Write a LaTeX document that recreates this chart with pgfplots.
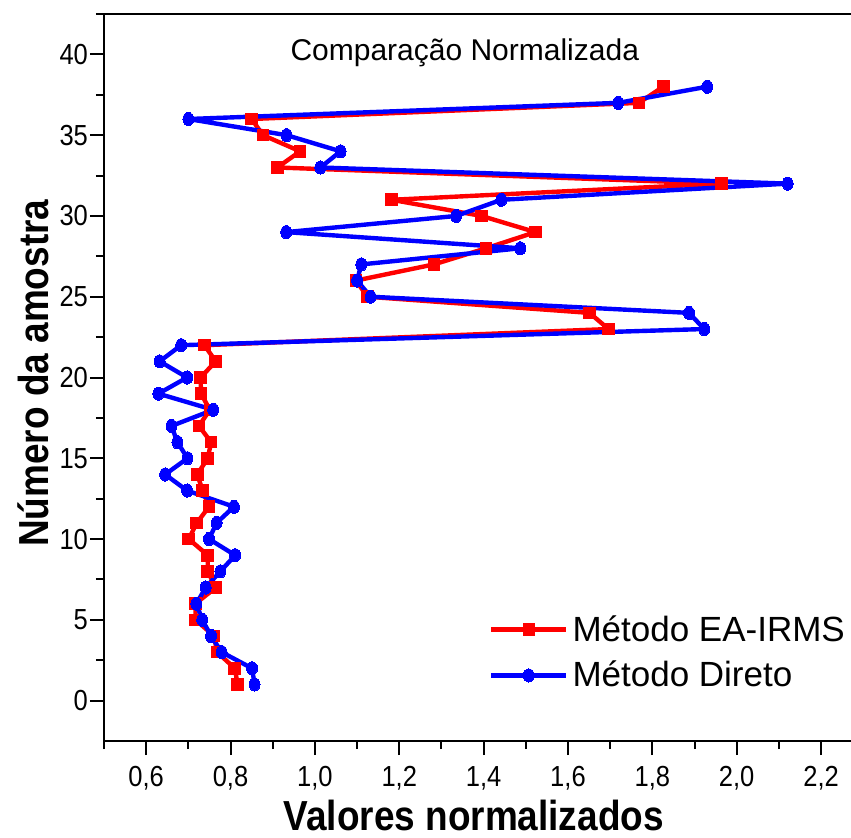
\documentclass[border=0pt]{standalone}
\usepackage{pgfplots}
\pgfplotsset{compat=1.18}
\usepackage{fontspec}
\setmainfont{Liberation Sans}
\newfontfamily\narrowfont[FakeStretch=0.88]{Liberation Sans}
\newfontfamily\labelfont[FakeStretch=0.88]{Liberation Sans}

\begin{document}
\begin{tikzpicture}
\begin{axis}[
  at={(0,0)}, anchor=south west,
  scale only axis,
  width=373.5pt, height=363.5pt,
  xmin=0.5, xmax=2.271,
  ymin=-2.5, ymax=42.5,
  axis x line=box, axis y line=left,
  x axis line style={-, line width=1pt},
  y axis line style={-, line width=1pt},
  every tick/.style={black, line width=1pt},
  tick align=outside,
  xtick pos=bottom, ytick pos=left,
  major tick length=7pt, minor tick length=4pt,
  xtick={0.6,0.8,...,2.21},
  minor xtick={0.5,0.7,...,2.25},
  ytick={0,5,...,40},
  minor ytick={2.5,7.5,...,40},
  /pgf/number format/assume math mode=true,
  x tick label style={/pgf/number format/use comma, /pgf/number format/fixed, /pgf/number format/fixed zerofill, /pgf/number format/precision=1},
  ticklabel style={font=\narrowfont\fontsize{14.5}{17}\selectfont},
  yticklabel style={xshift=2.5pt},
  xticklabel style={yshift=-2pt},
  xlabel={Valores normalizados},
  ylabel={Número da amostra},
  xlabel style={font=\labelfont\bfseries\fontsize{21}{24}\selectfont, at={(axis description cs:0.495,-0.102)}, anchor=center},
  ylabel style={font=\labelfont\bfseries\fontsize{21}{24}\selectfont, at={(axis description cs:-0.095,0.506)}, anchor=center},
  clip=false,
  legend style={at={(axis description cs:0.515,0.179)}, anchor=north west, draw=none, fill=none,
    font=\fontsize{17.5}{20}\selectfont, row sep=4.5pt, inner sep=0pt},
  legend cell align=left,
  legend image code/.code={\draw[mark repeat=2,mark phase=2] plot coordinates {(0pt,0pt) (18.75pt,0pt) (37.5pt,0pt)};},
]
\addplot[red, line width=2.2pt, line join=round, mark=square*, mark size=2.9pt, mark options={solid, fill=red, line width=0pt}] coordinates {
(0.817,1) (0.810,2) (0.768,3) (0.761,4) (0.717,5) (0.717,6) (0.765,7) (0.746,8) (0.746,9) (0.701,10)
(0.720,11) (0.749,12) (0.734,13) (0.721,14) (0.746,15) (0.754,16) (0.725,17) (0.751,18) (0.730,19) (0.729,20)
(0.765,21) (0.738,22) (1.696,23) (1.651,24) (1.125,25) (1.097,26) (1.282,27) (1.406,28) (1.523,29) (1.395,30)
(1.182,31) (1.964,32) (0.911,33) (0.965,34) (0.877,35) (0.850,36) (1.768,37) (1.826,38)
};
\addlegendentry{Método EA-IRMS}
\addplot[blue, line width=2.2pt, line join=round, mark=*, mark size=3.3pt, mark options={solid, fill=blue, line width=0pt, xscale=0.83}] coordinates {
(0.857,1) (0.851,2) (0.779,3) (0.754,4) (0.733,5) (0.719,6) (0.741,7) (0.776,8) (0.811,9) (0.749,10)
(0.767,11) (0.808,12) (0.697,13) (0.645,14) (0.698,15) (0.674,16) (0.660,17) (0.759,18) (0.629,19) (0.697,20)
(0.632,21) (0.683,22) (1.923,23) (1.887,24) (1.132,25) (1.100,26) (1.110,27) (1.487,28) (0.932,29) (1.335,30)
(1.442,31) (2.121,32) (1.013,33) (1.061,34) (0.933,35) (0.700,36) (1.719,37) (1.930,38)
};
\addlegendentry{Método Direto}
\node[font=\fontsize{15}{18}\selectfont] at (axis description cs:0.483,0.946) {Comparação Normalizada};
\end{axis}
\pgfresetboundingbox
\path[use as bounding box] (-52pt,-48pt) rectangle (373.5pt,370.5pt);
\end{tikzpicture}
\end{document}
